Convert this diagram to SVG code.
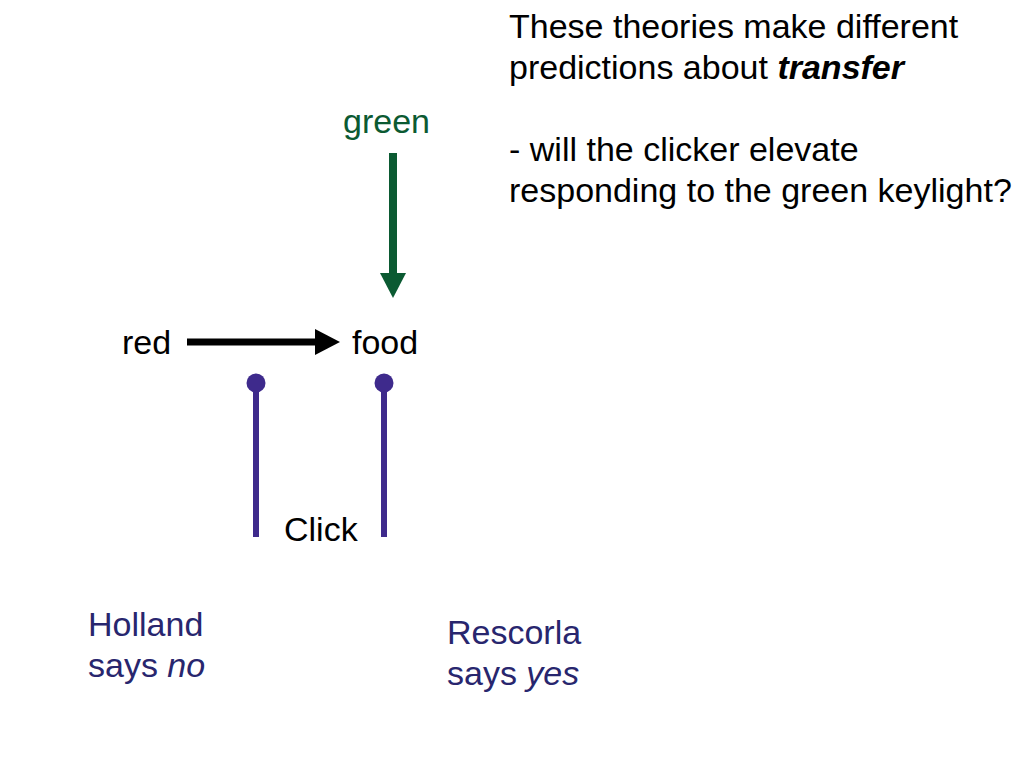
<svg xmlns="http://www.w3.org/2000/svg" width="1024" height="768" viewBox="0 0 1024 768">
<style>
text{font-family:"Liberation Sans",Arial,sans-serif;font-size:34px;fill:#000}
.g{fill:#0b5a32}
.n{fill:#28266e}
.p{stroke:#3e2a8c;stroke-width:6;fill:none}
.pd{fill:#3e2a8c}
</style>
<rect width="1024" height="768" fill="#fff"/>
<g id="note">
<text x="509" y="38">These theories make different</text>
<text x="509" y="79">predictions about <tspan font-weight="bold" font-style="italic">transfer</tspan></text>
<text x="509" y="161">- will the clicker elevate</text>
<text x="509" y="202">responding to the green keylight?</text>
</g>
<g id="green"><text class="g" x="343" y="133">green</text></g>
<g id="red"><text x="122" y="354">red</text></g>
<g id="food"><text x="352" y="354">food</text></g>
<g id="click"><text x="284" y="541">Click</text></g>
<g id="holland"><text class="n" x="88" y="636">Holland</text><text class="n" x="88" y="677">says <tspan font-style="italic">no</tspan></text></g>
<g id="rescorla"><text class="n" x="447" y="644">Rescorla</text><text class="n" x="447" y="685">says <tspan font-style="italic">yes</tspan></text></g>
<g id="connectors">
<line x1="393" y1="153" x2="393" y2="275" stroke="#0b5a32" stroke-width="8"/>
<polygon points="380,273 406,273 393,298" fill="#0b5a32"/>
<line x1="187" y1="342" x2="317" y2="342" stroke="#000" stroke-width="7"/>
<polygon points="315,329 315,355 340,342" fill="#000"/>
<line class="p" x1="256" y1="383" x2="256" y2="537"/>
<circle class="pd" cx="256" cy="383" r="9.5"/>
<line class="p" x1="384" y1="383" x2="384" y2="537"/>
<circle class="pd" cx="384" cy="383" r="9.5"/>
</g>
</svg>
